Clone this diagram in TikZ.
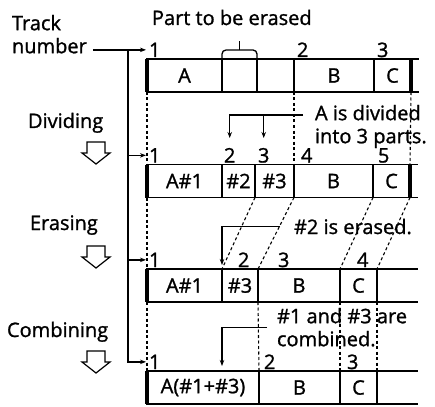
\documentclass[tikz,border=0pt]{standalone}
\usepackage{fontspec}
\setmainfont{Open Sans}[BoldFont=Open Sans, BoldFeatures={FakeBold=1.2}]
\usetikzlibrary{positioning,arrows.meta}

\tikzset{
    sinkarrow/.pic={
        \draw[line width=1.2pt, line join=miter] (-9,0) -- (9,0) -- (9,11) -- (14,11) -- (0,22) -- (-14,11) -- (-9,11) -- cycle;
    }
}

\begin{document}
\begin{tikzpicture}[
    x=1pt, y=-1pt,
    >={Stealth[length=6pt,width=4.5pt]},
    every node/.style={font=\fontsize{20}{23}\selectfont\bfseries, inner sep=0pt, outer sep=0pt},
    cell/.style={draw, line width=1.8pt, minimum height=33pt, anchor=west},
    num/.style={anchor=base west},
    lbl/.style={anchor=base west},
    note/.style={anchor=north west, align=left},
    edge/.style={line width=3.2pt},
    tail/.style={line width=1.8pt},
    guide/.style={line width=1.1pt, dash pattern=on 3pt off 2.5pt},
    flowarrow/.style={->, line width=1.3pt},
]
\useasboundingbox (0,0) rectangle (435,406);

% ---- Left: step labels ----
\node[note] (trk) at (12,15) {Track\\number};
\node[lbl] (dividing) at (28,128) {Dividing};
\node[lbl] (erasing) at (30,230) {Erasing};
\node[lbl] (combining) at (7,337) {Combining};
\pic (hdiv) at (96,142) {sinkarrow};
\pic (hers) at (96,246) {sinkarrow};
\pic (hcmb) at (96,351) {sinkarrow};

% ---- Row 1: original tape ----
\node[cell, minimum width=75pt] (a1) at (147,75.5) {A};
\node[cell, minimum width=35pt, right=0pt of a1] (p1) {};
\node[cell, minimum width=37pt, right=0pt of p1] (q1) {};
\node[cell, minimum width=80pt, right=0pt of q1] (b1) {B};
\node[cell, minimum width=37pt, right=0pt of b1] (c1) {C};
\draw[edge] (a1.north west) -- (a1.south west);
\draw[edge] (c1.north east) -- (c1.south east);
\draw[tail] (c1.north east) -- ++(8,0);
\draw[tail] (c1.south east) -- ++(8,0);
\node[num] (n11) at ([xshift=2pt,yshift=2pt]a1.north west) {1};
\node[num] (n12) at ([xshift=3pt,yshift=2pt]b1.north west) {2};
\node[num] (n13) at ([xshift=3pt,yshift=2pt]c1.north west) {3};

% part to be erased
\node[lbl] (part) at (152,25) {Part to be erased};
\draw[line width=1.3pt, rounded corners=4pt] ([yshift=1pt]p1.north west) -- ([yshift=9pt]p1.north west) -- ([yshift=9pt]p1.north east) -- ([yshift=1pt]p1.north east);
\draw[line width=1.3pt] ([yshift=9pt]p1.north) -- ([yshift=18pt]p1.north);

% ---- Row 2: after dividing ----
\node[cell, minimum width=75pt] (a2) at (147,181) {A\#1};
\node[cell, minimum width=33pt, right=0pt of a2] (s2) {\#2};
\node[cell, minimum width=39pt, right=0pt of s2] (t2) {\#3};
\node[cell, minimum width=79pt, right=0pt of t2] (b2) {B};
\node[cell, minimum width=37pt, right=0pt of b2] (c2) {C};
\draw[edge] (a2.north west) -- (a2.south west);
\draw[edge] (c2.north east) -- (c2.south east);
\draw[tail] (c2.north east) -- ++(8,0);
\draw[tail] (c2.south east) -- ++(8,0);
\node[num] (n21) at ([xshift=2pt,yshift=2pt]a2.north west) {1};
\node[num] (n22) at ([xshift=2pt,yshift=2pt]s2.north west) {2};
\node[num] (n23) at ([xshift=3pt,yshift=2pt]t2.north west) {3};
\node[num] (n24) at ([xshift=7pt,yshift=2pt]b2.north west) {4};
\node[num] (n25) at ([xshift=5pt,yshift=2pt]c2.north west) {5};

\draw[guide] (a1.south west) -- (a2.north west);
\draw[guide] (b1.south west) -- (b2.north west);
\draw[guide] (c1.south east) -- (c2.north east);

\node[note] (divtxt) at (315,105) {A is divided\\into 3 parts.};
\coordinate (dv) at ([xshift=-12pt,yshift=-10pt]divtxt.north west);
\draw[flowarrow, shorten >=10pt] (dv) -| (n22.north);
\draw[flowarrow, shorten >=10pt] (dv -| n23.north) -- (n23.north);

% ---- Row 3: after erasing ----
\node[cell, minimum width=75pt] (a3) at (147,285.5) {A\#1};
\node[cell, minimum width=36pt, right=0pt of a3] (t3) {\#3};
\node[cell, minimum width=82pt, right=0pt of t3] (b3) {B};
\node[cell, minimum width=37pt, right=0pt of b3] (c3) {C};
\draw[edge] (a3.north west) -- (a3.south west);
\draw[tail] (c3.north east) -- ++(41,0);
\draw[tail] (c3.south east) -- ++(41,0);
\node[num] (n31) at ([xshift=2pt,yshift=2pt]a3.north west) {1};
\node[num] (n32) at ([xshift=16pt,yshift=2pt]t3.north west) {2};
\node[num] (n33) at ([xshift=20pt,yshift=2pt]b3.north west) {3};
\node[num] (n34) at ([xshift=17pt,yshift=2pt]c3.north west) {4};

\draw[guide] (a2.south west) -- (a3.north west);
\draw[guide] (t2.south west) -- (t3.north west);
\draw[guide] (b2.south west) -- (b3.north west);
\draw[guide] (c2.south west) -- (c3.north west);
\draw[guide] (c2.south east) -- (c3.north east);

\node[lbl] (erstxt) at (294,234) {\#2 is erased.};
\draw[flowarrow, shorten >=4pt] ([xshift=-14pt]erstxt.west) -| (a3.north east);

% ---- Row 4: after combining ----
\node[cell, minimum width=112pt] (a4) at (147,387.5) {A(\#1+\#3)};
\node[cell, minimum width=81pt, right=0pt of a4] (b4) {B};
\node[cell, minimum width=37pt, right=0pt of b4] (c4) {C};
\draw[edge] (a4.north west) -- (a4.south west);
\draw[tail] (c4.north east) -- ++(41,0);
\draw[tail] (c4.south east) -- ++(41,0);
\node[num] (n41) at ([xshift=2pt,yshift=2pt]a4.north west) {1};
\node[num] (n42) at ([xshift=5pt,yshift=2pt]b4.north west) {2};
\node[num] (n43) at ([xshift=7pt,yshift=2pt]c4.north west) {3};

\draw[guide] (a3.south west) -- (a4.north west);
\draw[guide] (b3.south west) -- (b4.north west);
\draw[guide] (c3.south west) -- (c4.north west);
\draw[guide] (c3.south east) -- (c4.north east);

\node[note] (cmbtxt) at (277,308) {\#1 and \#3 are\\combined.};
\draw[flowarrow, shorten >=5pt] ([xshift=-10pt]cmbtxt.west) -| (a4.north -| a3.east);

% ---- Track number bracket ----
\coordinate (brk) at ([xshift=-21pt]n11.west);
\draw[flowarrow, shorten >=3pt] ([xshift=6pt]trk.east |- n11.west) -- (n11.west);
\draw[flowarrow, shorten >=3pt] (brk) |- (n41.west);
\draw[flowarrow, shorten >=3pt] (brk |- n21.west) -- (n21.west);
\draw[flowarrow, shorten >=3pt] (brk |- n31.west) -- (n31.west);

\end{tikzpicture}
\end{document}
